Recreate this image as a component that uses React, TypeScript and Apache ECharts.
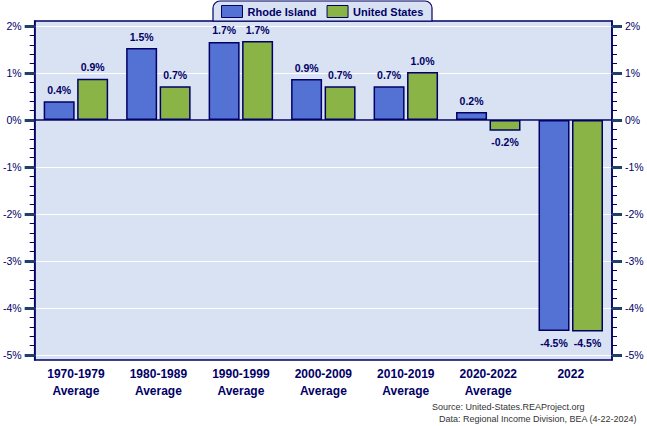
import React, { useEffect, useRef } from "react";
import * as echarts from "echarts";

const categories = [
  "1970-1979\nAverage",
  "1980-1989\nAverage",
  "1990-1999\nAverage",
  "2000-2009\nAverage",
  "2010-2019\nAverage",
  "2020-2022\nAverage",
  "2022",
];
const rhodeIsland = [0.4, 1.53, 1.66, 0.87, 0.72, 0.17, -4.49];
const unitedStates = [0.88, 0.72, 1.68, 0.72, 1.02, -0.23, -4.5];
const majorTicks = [-5, -4, -3, -2, -1, 0, 1, 2];
const minorTicks = [
  -4.8, -4.6, -4.4, -4.2, -3.8, -3.6, -3.4, -3.2, -2.8, -2.6, -2.4, -2.2,
  -1.8, -1.6, -1.4, -1.2, -0.8, -0.6, -0.4, -0.2, 0.2, 0.4, 0.6, 0.8,
  1.2, 1.4, 1.6, 1.8,
];
const sourceLines = [
  "Source: United-States.REAProject.org",
  "Data: Regional Income Division, BEA (4-22-2024)",
];

const NAVY = "#000066";
const FONT = "'Liberation Sans', Arial, sans-serif";
const Y_MIN = -5.106;
const Y_MAX = 2.106;

function makeData(vals: number[]) {
  return vals.map((v) => ({
    value: v,
    label: { position: v < 0 ? "bottom" : "top" },
  }));
}

export default function App() {
  const ref = useRef<HTMLDivElement>(null);
  useEffect(() => {
    if (!ref.current) return;
    const chart = echarts.init(ref.current, null, { renderer: "svg" });
    const majorAxis = (pos: "left" | "right", showSplit: boolean) => ({
      type: "value",
      position: pos,
      min: Y_MIN,
      max: Y_MAX,
      axisLine: { show: true, lineStyle: { color: NAVY, width: 1.5 } },
      axisTick: {
        show: true,
        customValues: majorTicks,
        length: 10,
        lineStyle: { color: "#1F3F6F", width: 3 },
      },
      axisLabel: {
        show: true,
        customValues: majorTicks,
        formatter: (v: number) => `${Math.round(v)}%`,
        color: NAVY,
        fontFamily: FONT,
        fontSize: 10.5,
        margin: 13,
      },
      splitLine: {
        show: showSplit,
        lineStyle: { color: "#ffffff", width: 1 },
      },
    });
    const minorAxis = (pos: "left" | "right") => ({
      type: "value",
      position: pos,
      min: Y_MIN,
      max: Y_MAX,
      axisLine: { show: false },
      axisTick: {
        show: true,
        customValues: minorTicks,
        length: 5,
        lineStyle: { color: NAVY, width: 1 },
      },
      axisLabel: { show: false },
      splitLine: { show: false },
    });
    const labelCommon = {
      show: true,
      formatter: (p: any) => `${Number(p.value).toFixed(1)}%`,
      color: NAVY,
      fontFamily: FONT,
      fontWeight: "bold",
      fontSize: 10.5,
      distance: 6,
    };
    chart.setOption({
      animation: false,
      textStyle: { fontFamily: FONT },
      grid: {
        left: 33,
        right: 35,
        top: 21,
        bottom: 66,
        show: true,
        backgroundColor: "#D9E2F3",
        borderColor: NAVY,
        borderWidth: 1.5,
      },
      graphic: [
        {
          type: "rect",
          z: 0,
          shape: { x: 213, y: 1, width: 219, height: 20, r: [7, 7, 0, 0] },
          style: { fill: "#D9E2F3", stroke: NAVY, lineWidth: 1.2 },
        },
        {
          type: "text",
          x: 432,
          y: 407,
          style: {
            text: sourceLines[0],
            fill: "#333333",
            font: `9px ${FONT}`,
            verticalAlign: "middle",
          },
        },
        {
          type: "text",
          x: 439,
          y: 419,
          style: {
            text: sourceLines[1],
            fill: "#333333",
            font: `9px ${FONT}`,
            verticalAlign: "middle",
          },
        },
      ],
      legend: {
        left: 221,
        top: 5,
        padding: 0,
        itemWidth: 21,
        itemHeight: 12,
        itemGap: 10,
        icon: "rect",
        z: 5,
        textStyle: {
          color: NAVY,
          fontWeight: "bold",
          fontSize: 11,
          fontFamily: FONT,
        },
        data: [
          { name: "Rhode Island", itemStyle: { borderColor: NAVY, borderWidth: 1 } },
          { name: "United States", itemStyle: { borderColor: NAVY, borderWidth: 1 } },
        ],
      },
      xAxis: {
        type: "category",
        data: categories,
        axisLine: { show: false },
        axisTick: { show: false },
        axisLabel: {
          color: NAVY,
          fontWeight: "bold",
          fontSize: 12,
          fontFamily: FONT,
          lineHeight: 17,
          margin: 5,
          interval: 0,
        },
      },
      yAxis: [
        majorAxis("left", true),
        minorAxis("left"),
        majorAxis("right", false),
        minorAxis("right"),
      ],
      series: [
        {
          name: "Rhode Island",
          type: "bar",
          yAxisIndex: 0,
          data: makeData(rhodeIsland),
          barWidth: 31,
          barGap: "8%",
          itemStyle: { color: "#5472D3", borderColor: NAVY, borderWidth: 1.5 },
          label: labelCommon,
          markLine: {
            silent: true,
            symbol: "none",
            label: { show: false },
            lineStyle: { color: NAVY, width: 1.5, type: "solid" },
            data: [{ yAxis: 0 }],
          },
        },
        {
          name: "United States",
          type: "bar",
          yAxisIndex: 0,
          data: makeData(unitedStates),
          barWidth: 31,
          barGap: "8%",
          itemStyle: { color: "#8AB446", borderColor: NAVY, borderWidth: 1.5 },
          label: labelCommon,
        },
      ],
    });
    return () => chart.dispose();
  }, []);
  return (
    <div
      ref={ref}
      style={{ position: "absolute", left: 0, top: 0, width: 647, height: 426 }}
    />
  );
}
